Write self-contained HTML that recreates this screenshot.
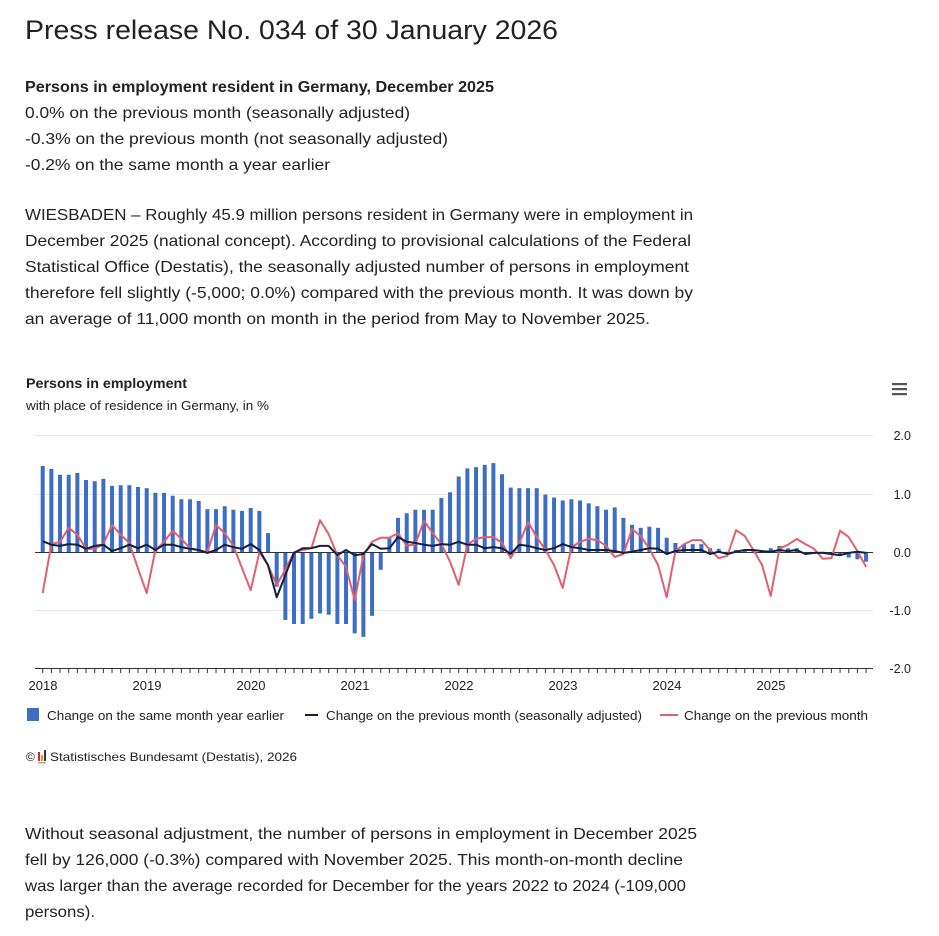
<!DOCTYPE html>
<html><head><meta charset="utf-8"><style>
html,body{margin:0;padding:0;background:#fff;width:939px;height:936px;overflow:hidden}
svg{display:block}
text{font-family:"Liberation Sans",sans-serif;fill:#222}
.b{font-size:16px}
</style></head><body>
<svg id="s" width="939" height="936" xmlns="http://www.w3.org/2000/svg">
<text x="25" y="39" font-size="27" textLength="533" lengthAdjust="spacingAndGlyphs" fill="#333">Press release No. 034 of 30 January 2026</text>
<text class="b" x="25" y="92" font-weight="bold" textLength="469" lengthAdjust="spacingAndGlyphs">Persons in employment resident in Germany, December 2025</text>
<text class="b" x="25" y="118" textLength="385" lengthAdjust="spacingAndGlyphs">0.0% on the previous month (seasonally adjusted)</text>
<text class="b" x="25" y="144" textLength="423" lengthAdjust="spacingAndGlyphs">-0.3% on the previous month (not seasonally adjusted)</text>
<text class="b" x="25" y="170" textLength="305" lengthAdjust="spacingAndGlyphs">-0.2% on the same month a year earlier</text>
<text class="b" x="25" y="220" textLength="668" lengthAdjust="spacingAndGlyphs">WIESBADEN – Roughly 45.9 million persons resident in Germany were in employment in</text>
<text class="b" x="25" y="246" textLength="666" lengthAdjust="spacingAndGlyphs">December 2025 (national concept). According to provisional calculations of the Federal</text>
<text class="b" x="25" y="272" textLength="664" lengthAdjust="spacingAndGlyphs">Statistical Office (Destatis), the seasonally adjusted number of persons in employment</text>
<text class="b" x="25" y="298" textLength="668" lengthAdjust="spacingAndGlyphs">therefore fell slightly (-5,000; 0.0%) compared with the previous month. It was down by</text>
<text class="b" x="25" y="324" textLength="625" lengthAdjust="spacingAndGlyphs">an average of 11,000 month on month in the period from May to November 2025.</text>

<text x="26" y="388" font-size="14" font-weight="bold" textLength="161" lengthAdjust="spacingAndGlyphs">Persons in employment</text>
<text x="26" y="410" font-size="12.5" textLength="243" lengthAdjust="spacingAndGlyphs" fill="#333">with place of residence in Germany, in %</text>
<g fill="#555"><rect x="892" y="383" width="15" height="2.2"/><rect x="892" y="388" width="15" height="2.2"/><rect x="892" y="393" width="15" height="2.2"/></g>

<g stroke="#e6e6e6" stroke-width="1">
<line x1="35" x2="873" y1="435.5" y2="435.5"/><line x1="35" x2="873" y1="494.5" y2="494.5"/><line x1="35" x2="873" y1="610.5" y2="610.5"/>
</g>
<g font-size="12.5" fill="#333" text-anchor="end">
<text x="911" y="440">2.0</text><text x="911" y="499">1.0</text><text x="911" y="557">0.0</text><text x="911" y="615">-1.0</text><text x="911" y="673">-2.0</text>
</g>
<g id="bars" fill="#3d6ec4"></g>
<line x1="35" x2="873" y1="552.5" y2="552.5" stroke="#333" stroke-width="1"/>
<path id="red" fill="none" stroke="#e06070" stroke-width="2" stroke-linejoin="round"/>
<path id="dark" fill="none" stroke="#13213f" stroke-width="2" stroke-linejoin="round"/>
<line x1="35" x2="873" y1="668.5" y2="668.5" stroke="#333" stroke-width="1"/>
<g id="ticks" stroke="#333" stroke-width="1"></g>
<g font-size="13" text-anchor="middle" fill="#222">
<text x="43" y="690">2018</text><text x="147" y="690">2019</text><text x="251" y="690">2020</text><text x="355" y="690">2021</text><text x="459" y="690">2022</text><text x="563" y="690">2023</text><text x="667" y="690">2024</text><text x="771" y="690">2025</text>
</g>
<rect x="27" y="708" width="12" height="13" fill="#3d6ec4"/>
<text x="47" y="720" font-size="13" textLength="237" lengthAdjust="spacingAndGlyphs">Change on the same month year earlier</text>
<line x1="305" x2="318" y1="715" y2="715" stroke="#13213f" stroke-width="2"/>
<text x="326" y="720" font-size="13" textLength="316" lengthAdjust="spacingAndGlyphs">Change on the previous month (seasonally adjusted)</text>
<line x1="660" x2="678" y1="715" y2="715" stroke="#e06070" stroke-width="2"/>
<text x="684" y="720" font-size="13" textLength="184" lengthAdjust="spacingAndGlyphs">Change on the previous month</text>
<text x="26" y="761" font-size="12" textLength="12">©</text>
<rect x="38" y="752" width="2" height="9" fill="#d22"/><rect x="41" y="755" width="2" height="6" fill="#e0a000"/><rect x="44" y="750" width="2" height="11" fill="#333"/><rect x="38" y="762" width="8" height="1.5" fill="#aaa"/>
<text x="50" y="761" font-size="12" textLength="247" lengthAdjust="spacingAndGlyphs">Statistisches Bundesamt (Destatis), 2026</text>

<text class="b" x="25" y="839" textLength="672" lengthAdjust="spacingAndGlyphs">Without seasonal adjustment, the number of persons in employment in December 2025</text>
<text class="b" x="25" y="865" textLength="658" lengthAdjust="spacingAndGlyphs">fell by 126,000 (-0.3%) compared with November 2025. This month-on-month decline</text>
<text class="b" x="25" y="891" textLength="661" lengthAdjust="spacingAndGlyphs">was larger than the average recorded for December for the years 2022 to 2024 (-109,000</text>
<text class="b" x="25" y="917" textLength="70" lengthAdjust="spacingAndGlyphs">persons).</text>
</svg>
<script>
var bars=[1.48,1.43,1.33,1.33,1.36,1.24,1.22,1.26,1.14,1.15,1.15,1.12,
1.10,1.02,1.02,0.97,0.91,0.91,0.88,0.74,0.74,0.79,0.73,0.71,
0.76,0.71,0.33,-0.59,-1.16,-1.23,-1.23,-1.14,-1.05,-1.07,-1.23,-1.23,
-1.39,-1.45,-1.09,-0.30,0.24,0.59,0.67,0.73,0.73,0.73,0.93,1.03,
1.30,1.44,1.46,1.50,1.53,1.34,1.11,1.10,1.10,1.10,0.99,0.94,
0.89,0.91,0.89,0.84,0.79,0.73,0.77,0.59,0.47,0.42,0.44,0.42,
0.25,0.16,0.14,0.14,0.14,0.07,0.06,0.01,0.04,0.03,0.03,0.03,
0.07,0.11,0.07,0.07,-0.02,0.0,0.01,-0.03,-0.05,-0.09,-0.12,-0.16];
var red=[-0.70,0.14,0.18,0.42,0.30,0.06,0.06,0.14,0.47,0.30,0.16,-0.28,
-0.70,0.04,0.18,0.37,0.23,0.07,0.04,0,0.47,0.33,0.11,-0.27,
-0.65,0,-0.22,-0.56,-0.30,0,0.04,0.07,0.55,0.31,-0.05,-0.25,
-0.82,-0.05,0.18,0.25,0.25,0.33,0.11,0.14,0.54,0.33,0.14,-0.16,
-0.56,0.13,0.23,0.26,0.26,0.16,-0.10,0.16,0.52,0.26,0.04,-0.22,
-0.61,0.09,0.18,0.23,0.21,0.11,-0.08,-0.03,0.40,0.28,0.06,-0.22,
-0.77,0.02,0.14,0.21,0.21,0.04,-0.10,-0.06,0.38,0.28,0.04,-0.22,
-0.75,0.06,0.13,0.23,0.14,0.06,-0.11,-0.10,0.37,0.26,0.02,-0.25];
var dark=[0.19,0.13,0.11,0.14,0.13,0.06,0.11,0.13,0.02,0.07,0.13,0.07,
0.13,0.04,0.13,0.13,0.09,0.06,0.04,-0.01,0.04,0.13,0.09,0.06,
0.14,0.04,-0.22,-0.77,-0.39,-0.01,0.07,0.07,0.11,0.11,-0.05,0.04,
-0.05,-0.03,0.14,0.06,0.07,0.26,0.18,0.16,0.13,0.11,0.14,0.13,
0.18,0.13,0.13,0.07,0.09,0.07,-0.03,0.13,0.11,0.07,0.04,0.07,
0.14,0.09,0.07,0.04,0.04,0.04,0.02,-0.01,0.01,0.04,0.07,0.06,
-0.03,0.02,0.04,0.04,0.04,-0.03,0.01,-0.03,0.01,0.04,0.04,0.02,
0.01,0.04,0.02,0.04,-0.03,-0.01,-0.01,-0.03,-0.05,-0.01,0.01,-0.01];
var X=function(i){return 42.7+i*8.667},Y=function(v){return 552.3-v*58.3};
var ns="http://www.w3.org/2000/svg",g=document.getElementById('bars'),t=document.getElementById('ticks');
for(var i=0;i<96;i++){var r=document.createElementNS(ns,'rect'),v=bars[i];
r.setAttribute('x',X(i)-2);r.setAttribute('width',4);
r.setAttribute('y',Math.min(Y(v),552.3));r.setAttribute('height',Math.abs(v*58.3));g.appendChild(r);
var l=document.createElementNS(ns,'line');l.setAttribute('x1',X(i));l.setAttribute('x2',X(i));l.setAttribute('y1',668);l.setAttribute('y2',673);t.appendChild(l);}
function p(a){return a.map(function(v,i){return (i?'L':'M')+X(i).toFixed(1)+','+Y(v).toFixed(1)}).join('')}
document.getElementById('red').setAttribute('d',p(red));
document.getElementById('dark').setAttribute('d',p(dark));
</script>
</body></html>
